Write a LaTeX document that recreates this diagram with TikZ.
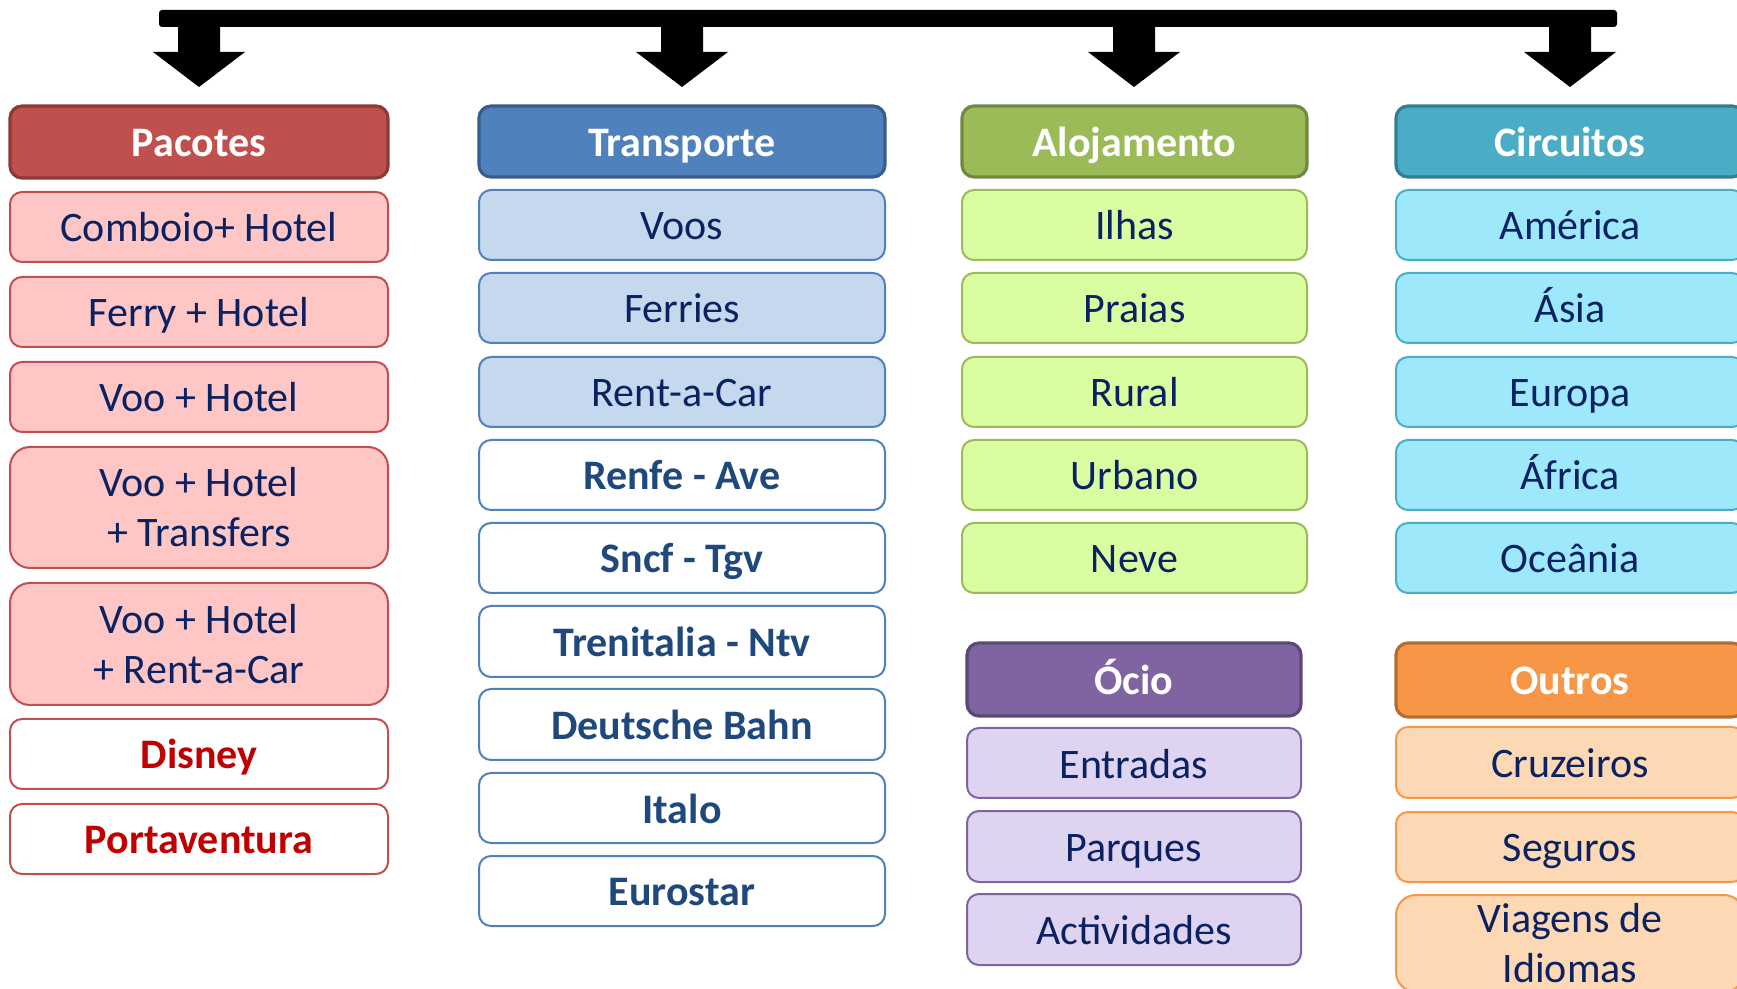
\documentclass[tikz,border=0pt]{standalone}
\usepackage{fontspec}
\setmainfont{Carlito}
\definecolor{navy}{HTML}{0B2262}
\definecolor{navyb}{HTML}{1F497D}
\definecolor{redt}{HTML}{C00000}
\definecolor{pkH}{HTML}{C0504D}\definecolor{pkD}{HTML}{8C3A37}\definecolor{pkL}{HTML}{FFC6C6}
\definecolor{trH}{HTML}{4F81BD}\definecolor{trD}{HTML}{385D8A}\definecolor{trL}{HTML}{C6D8EE}
\definecolor{alH}{HTML}{9BBB59}\definecolor{alD}{HTML}{71893F}\definecolor{alL}{HTML}{DBFDA2}
\definecolor{ciH}{HTML}{4BACC6}\definecolor{ciD}{HTML}{357D91}\definecolor{ciL}{HTML}{9EE8FC}
\definecolor{ocH}{HTML}{8064A2}\definecolor{ocD}{HTML}{5C4776}\definecolor{ocL}{HTML}{DED3F0}
\definecolor{ouH}{HTML}{F79646}\definecolor{ouD}{HTML}{B66D31}\definecolor{ouL}{HTML}{FDD8B5}
\tikzset{
  box/.style={rectangle, rounded corners=6pt, inner sep=0pt, line width=1pt,
    font=\fontsize{21}{25}\selectfont, text=navy, align=center},
  sl/.style={text height=15pt, text depth=0pt},
  ml/.style={rounded corners=10pt},
  hdr/.style={box, sl, line width=1.6pt, text=white, font=\fontsize{21}{25}\selectfont\bfseries},
  pkh/.style={hdr, fill=pkH, draw=pkD}, pki/.style={box, fill=pkL, draw=pkH},
  pkw/.style={box, sl, fill=white, draw=pkH, text=redt, font=\fontsize{21}{25}\selectfont\bfseries},
  trh/.style={hdr, fill=trH, draw=trD}, tri/.style={box, sl, fill=trL, draw=trH},
  trw/.style={box, sl, fill=white, draw=trH, text=navyb, font=\fontsize{21}{25}\selectfont\bfseries},
  alh/.style={hdr, fill=alH, draw=alD}, ali/.style={box, sl, fill=alL, draw=alH},
  cih/.style={hdr, fill=ciH, draw=ciD}, cii/.style={box, fill=ciL, draw=ciH},
  och/.style={hdr, fill=ocH, draw=ocD}, oci/.style={box, sl, fill=ocL, draw=ocH},
  ouh/.style={hdr, fill=ouH, draw=ouD}, oui/.style={box, fill=ouL, draw=ouH},
  blockarrow/.style={fill=black, draw=none}
}
\newcommand{\bx}[7]{\node[#6, minimum width={(#4-#2)*0.5pt}, minimum height={(#5-#3)*0.5pt}] (#1) at ({(#2+#4)/2},{(#3+#5)/2}) {#7};}
\newcommand{\downarrowat}[1]{\fill[blockarrow] ({#1-21},26) -- ({#1-21},52) -- ({#1-46},52) -- (#1,87) -- ({#1+46},52) -- ({#1+21},52) -- ({#1+21},26) -- cycle;}
\begin{document}
\begin{tikzpicture}[x=0.5pt, y=-0.5pt]
\useasboundingbox (0,0) rectangle (1737,989);
\clip (0,0) rectangle (1737,989);
% top bar and arrows
\fill[blockarrow, rounded corners=1.5pt] (159,10) rectangle (1617,27);
\downarrowat{199}
\downarrowat{682}
\downarrowat{1134}
\downarrowat{1570}
% Pacotes
\bx{pacotes}{10}{106}{388}{178}{pkh}{Pacotes}
\bx{p1}{10}{192}{388}{262}{pki,sl}{Comboio+ Hotel}
\bx{p2}{10}{277}{388}{347}{pki,sl}{Ferry + Hotel}
\bx{p3}{10}{362}{388}{432}{pki,sl}{Voo + Hotel}
\bx{p4}{10}{447}{388}{568}{pki,ml}{Voo + Hotel\\+ Transfers}
\bx{p5}{10}{583}{388}{705}{pki,ml}{Voo + Hotel\\+ Rent-a-Car}
\bx{p6}{10}{719}{388}{789}{pkw}{Disney}
\bx{p7}{10}{804}{388}{874}{pkw}{Portaventura}
% Transporte
\bx{transporte}{479}{106}{885}{177}{trh}{Transporte}
\bx{t1}{479}{190}{885}{260}{tri}{Voos}
\bx{t2}{479}{273}{885}{343}{tri}{Ferries}
\bx{t3}{479}{357}{885}{427}{tri}{Rent-a-Car}
\bx{t4}{479}{440}{885}{510}{trw}{Renfe - Ave}
\bx{t5}{479}{523}{885}{593}{trw}{Sncf - Tgv}
\bx{t6}{479}{606}{885}{677}{trw}{Trenitalia - Ntv}
\bx{t7}{479}{689}{885}{760}{trw}{Deutsche Bahn}
\bx{t8}{479}{773}{885}{843}{trw}{Italo}
\bx{t9}{479}{856}{885}{926}{trw}{Eurostar}
% Alojamento
\bx{alojamento}{962}{106}{1307}{177}{alh}{Alojamento}
\bx{a1}{962}{190}{1307}{260}{ali}{Ilhas}
\bx{a2}{962}{273}{1307}{343}{ali}{Praias}
\bx{a3}{962}{357}{1307}{427}{ali}{Rural}
\bx{a4}{962}{440}{1307}{510}{ali}{Urbano}
\bx{a5}{962}{523}{1307}{593}{ali}{Neve}
% Ocio
\bx{ocio}{967}{643}{1301}{716}{och}{Ócio}
\bx{o1}{967}{728}{1301}{798}{oci}{Entradas}
\bx{o2}{967}{811}{1301}{882}{oci}{Parques}
\bx{o3}{967}{894}{1301}{965}{oci}{Actividades}
% Circuitos
\bx{circuitos}{1396}{106}{1744}{177}{cih}{Circuitos}
\bx{c1}{1396}{190}{1744}{260}{cii,sl}{América}
\bx{c2}{1396}{273}{1744}{343}{cii,sl}{Ásia}
\bx{c3}{1396}{357}{1744}{427}{cii,sl}{Europa}
\bx{c4}{1396}{440}{1744}{510}{cii,sl}{África}
\bx{c5}{1396}{523}{1744}{593}{cii,sl}{Oceânia}
% Outros
\bx{outros}{1396}{643}{1744}{717}{ouh}{Outros}
\bx{u1}{1396}{727}{1744}{798}{oui,sl}{Cruzeiros}
\bx{u2}{1396}{812}{1744}{882}{oui,sl}{Seguros}
\bx{u3}{1396}{895}{1744}{992}{oui,ml}{Viagens de\\Idiomas}
\end{tikzpicture}
\end{document}
